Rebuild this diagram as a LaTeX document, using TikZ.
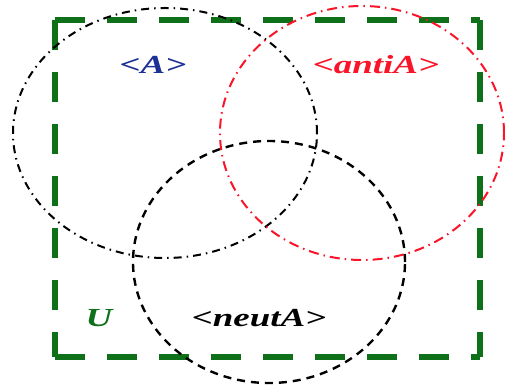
\documentclass[tikz,border=0pt]{standalone}
\usepackage{fontspec}
\setmainfont{Liberation Serif}
\begin{document}
\begin{tikzpicture}[x=1pt,y=1pt]
\definecolor{ugreen}{RGB}{14,112,24}
\definecolor{ablue}{RGB}{28,48,150}
\definecolor{ared}{RGB}{250,20,40}
\tikzset{
  lbl/.style={font=\fontsize{26}{26}\selectfont\bfseries\itshape, inner sep=0pt},
  uside/.style={draw=ugreen, line width=6pt, dash pattern=on 30pt off 22pt},
  setA/.style={draw=black, line width=2pt, dash pattern=on 8pt off 5pt on 1.5pt off 5pt},
  setAnti/.style={draw=ared, line width=2pt, dash pattern=on 10pt off 5pt on 1.5pt off 5pt},
  setNeut/.style={draw=black, line width=2.4pt, dash pattern=on 8pt off 6pt},
}
\useasboundingbox (0,0) rectangle (505,388);
\fill[white] (0,0) rectangle (505,388);
% universe rectangle
\coordinate (TL) at (55,368);
\coordinate (TR) at (480,368);
\coordinate (BL) at (55,31);
\coordinate (BR) at (480,31);
\draw[uside] (TL) -- (TR);
\draw[uside] (TL) -- (BL);
\draw[uside] (BL) -- (BR);
\draw[uside] (TR) -- (BR);
% sets
\draw[setA] (165,255) ellipse [x radius=152, y radius=125];
\draw[setAnti] (362,255) ellipse [x radius=142, y radius=127];
\draw[setNeut] (269,126) ellipse [x radius=136, y radius=121];
% labels
\node[lbl, text=ablue] (la) at (153,323) {\scalebox{1.42}[1]{<A>}};
\node[lbl, text=ared] (lanti) at (376,323) {\scalebox{1.42}[1]{<antiA>}};
\node[lbl, text=ugreen] (lu) at (99,70) {\scalebox{1.42}[1]{U}};
\node[lbl, text=black] (lneut) at (259,70) {\scalebox{1.42}[1]{<neutA>}};
\end{tikzpicture}
\end{document}
